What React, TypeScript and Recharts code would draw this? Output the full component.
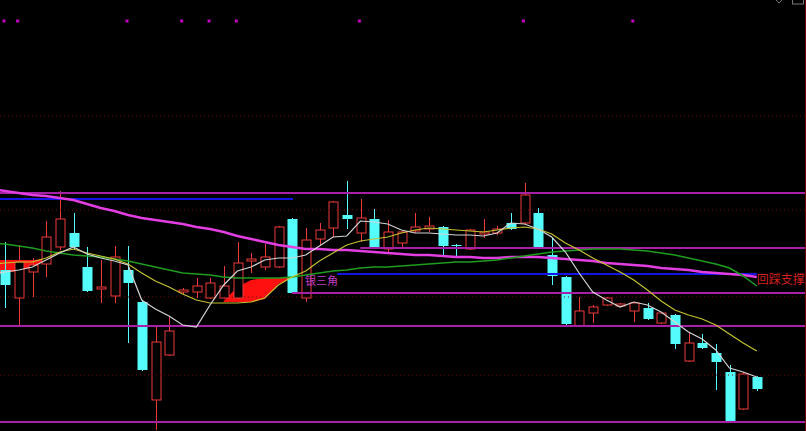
import React from 'react';
import {
  ComposedChart,
  Bar,
  Line,
  Area,
  Scatter,
  XAxis,
  YAxis,
  ReferenceLine,
  ReferenceDot,
} from 'recharts';

// first slot is the session before the window (lines only, no candle)
const OPEN = [null, 9.30, 9.02, 9.28, 9.36, 9.53, 9.67, 9.33, 9.11, 9.04, 9.30, 8.98, 8.00, 8.45, 9.08, 9.08, 9.02, 9.02, 9.02, 9.39, 9.33, 9.33, 9.81, 9.02, 9.61, 9.72, 9.85, 9.67, 9.81, 9.51, 9.57, 9.69, 9.71, 9.73, 9.55, 9.51, 9.66, 9.67, 9.77, 9.77, 9.87, 9.45, 9.23, 8.74, 8.87, 8.95, 8.94, 8.89, 8.92, 8.77, 8.85, 8.39, 8.57, 8.47, 8.28, 7.91, 8.23];
const HIGH = [null, 9.58, 9.55, 9.42, 9.79, 10.09, 9.87, 9.53, 9.40, 9.54, 9.54, 8.99, 8.73, 8.83, 9.12, 9.22, 9.22, 9.34, 9.58, 9.47, 9.56, 9.74, 9.82, 9.72, 9.77, 9.99, 10.19, 10.01, 9.91, 9.80, 9.69, 9.87, 9.83, 9.74, 9.56, 9.71, 9.81, 9.74, 9.87, 10.17, 9.92, 9.62, 9.24, 9.03, 8.95, 9.03, 8.97, 8.98, 8.97, 8.88, 8.86, 8.67, 8.66, 8.56, 8.35, 8.28, 8.24];
const LOW = [null, 8.92, 8.75, 9.03, 9.23, 9.50, 9.51, 9.08, 8.97, 8.97, 8.57, 8.29, 7.70, 8.44, 9.06, 9.02, 9.01, 9.01, 9.01, 9.27, 9.30, 9.32, 9.06, 8.98, 9.55, 9.63, 9.71, 9.58, 9.51, 9.48, 9.53, 9.67, 9.68, 9.45, 9.42, 9.50, 9.62, 9.65, 9.70, 9.76, 9.51, 9.15, 8.75, 8.73, 8.77, 8.94, 8.93, 8.78, 8.80, 8.76, 8.51, 8.38, 8.51, 8.10, 7.77, 7.90, 8.09];
const CLOSE = [null, 9.15, 9.38, 9.35, 9.63, 9.81, 9.53, 9.09, 9.13, 9.43, 9.17, 8.30, 8.58, 8.69, 9.10, 9.14, 9.17, 9.14, 9.37, 9.41, 9.43, 9.73, 9.07, 9.60, 9.70, 9.98, 9.81, 9.82, 9.52, 9.68, 9.68, 9.73, 9.74, 9.54, 9.54, 9.70, 9.68, 9.71, 9.71, 10.05, 9.52, 9.24, 8.76, 8.89, 8.93, 9.02, 8.96, 8.97, 8.81, 8.87, 8.56, 8.57, 8.52, 8.38, 7.78, 8.26, 8.11];

const MA5 = [9.25, 9.28, 9.30, 9.33, 9.40, 9.47, 9.53, 9.46, 9.42, 9.39, 9.35, 9.00, 8.91, 8.84, 8.75, 8.73, 8.95, 9.15, 9.29, 9.33, 9.40, 9.42, 9.42, 9.45, 9.54, 9.63, 9.64, 9.79, 9.78, 9.76, 9.70, 9.67, 9.67, 9.66, 9.65, 9.65, 9.64, 9.67, 9.77, 9.76, 9.71, 9.63, 9.48, 9.27, 9.08, 9.00, 8.93, 8.98, 8.95, 8.88, 8.78, 8.68, 8.61, 8.50, 8.32, 8.28, 8.23];
const MA10 = [9.36, 9.37, 9.38, 9.38, 9.42, 9.48, 9.51, 9.47, 9.44, 9.41, 9.36, 9.27, 9.19, 9.13, 9.06, 9.00, 8.97, 8.97, 8.97, 8.98, 9.02, 9.15, 9.23, 9.29, 9.39, 9.47, 9.55, 9.59, 9.61, 9.63, 9.67, 9.70, 9.72, 9.71, 9.70, 9.69, 9.68, 9.70, 9.72, 9.73, 9.71, 9.66, 9.57, 9.50, 9.42, 9.35, 9.28, 9.20, 9.10, 8.99, 8.90, 8.85, 8.81, 8.75, 8.66, 8.57, 8.49];
const MA30 = [9.57, 9.56, 9.54, 9.52, 9.49, 9.47, 9.45, 9.44, 9.43, 9.41, 9.39, 9.36, 9.33, 9.30, 9.27, 9.26, 9.25, 9.23, 9.22, 9.22, 9.22, 9.22, 9.23, 9.25, 9.27, 9.29, 9.30, 9.32, 9.33, 9.33, 9.34, 9.35, 9.36, 9.37, 9.38, 9.38, 9.39, 9.40, 9.42, 9.44, 9.46, 9.48, 9.49, 9.50, 9.51, 9.51, 9.51, 9.50, 9.49, 9.47, 9.45, 9.42, 9.39, 9.36, 9.32, 9.24, 9.14];
const MA60 = [10.11, 10.09, 10.07, 10.05, 10.04, 10.02, 10.00, 9.96, 9.92, 9.89, 9.85, 9.82, 9.80, 9.78, 9.76, 9.73, 9.71, 9.68, 9.64, 9.61, 9.58, 9.55, 9.53, 9.51, 9.51, 9.50, 9.50, 9.49, 9.48, 9.47, 9.46, 9.45, 9.45, 9.44, 9.43, 9.43, 9.42, 9.42, 9.43, 9.43, 9.43, 9.42, 9.41, 9.40, 9.39, 9.37, 9.36, 9.35, 9.34, 9.32, 9.31, 9.30, 9.28, 9.27, 9.26, 9.25, 9.23];

// red filled zones (session index, lower edge, upper edge)
const BAND_IDX = [-1, 0, 1, 2, 3, 16, 17, 18, 19, 20, 21];
const BAND_LO = [9.25, 9.27, 9.29, 9.33, 9.40, 8.98, 8.98, 8.98, 9.01, 9.16, 9.22];
const BAND_HI = [9.40, 9.40, 9.40, 9.40, 9.41, 8.99, 9.13, 9.20, 9.22, 9.22, 9.23];

// signal marks along the top
const MARK_IDX = [0, 1, 9, 13, 15, 17, 26, 38, 46];
const MARK_PRICE = 11.79;

const GRID_LEVELS = [10.84, 9.90, 9.03, 8.25];
const FULL_LEVELS = [10.07, 8.74, 7.78];

const RED = '#f03a3a';
const CYAN = '#54fcfc';
const PURPLE = '#a621a6';
const BLUE = '#1414e6';

const rows = MA5.map((_, k) => {
  const bi = BAND_IDX.indexOf(k - 1);
  return {
    i: k - 1,
    o: OPEN[k],
    h: HIGH[k],
    l: LOW[k],
    c: CLOSE[k],
    range: HIGH[k] == null ? null : [LOW[k], HIGH[k]],
    ma5: MA5[k],
    ma10: MA10[k],
    ma30: MA30[k],
    ma60: MA60[k],
    band: bi >= 0 ? [BAND_LO[bi], BAND_HI[bi]] : null,
  };
});

const marks = MARK_IDX.map((i) => ({ i, y: MARK_PRICE }));

const Candle = (props: any) => {
  const { x, y, width, height, payload } = props;
  if (payload == null || payload.h == null) return null;
  const { o, h, l, c } = payload;
  const up = c >= o;
  const color = up ? RED : CYAN;
  const py = (p: number) => y + ((h - p) / (h - l)) * height;
  const cx = Math.round(x + width / 2) + 0.5;
  const top = py(Math.max(o, c));
  const bot = py(Math.min(o, c));
  const bh = Math.max(bot - top, 1);
  return (
    <g>
      <line x1={cx} x2={cx} y1={y} y2={top} stroke={color} />
      <line x1={cx} x2={cx} y1={top + bh} y2={y + height} stroke={color} />
      {up ? (
        <rect x={cx - 4.5} y={top} width={9} height={bh} fill="#000" stroke={color} />
      ) : (
        <rect x={cx - 5} y={top} width={10} height={bh} fill={color} />
      )}
    </g>
  );
};

const Mark = (props: any) => (
  <rect x={props.cx - 2.5} y={props.cy - 1.5} width={3} height={3} fill="#c400c4" />
);

const textAt = (label: string, color: string, size: number) => (props: any) => (
  <text
    x={props.cx}
    y={props.cy}
    fill={color}
    fontSize={size}
    fontFamily="'Noto Sans CJK SC', sans-serif"
    dominantBaseline="central"
  >
    {label}
  </text>
);

export default function App() {
  return (
    <div style={{ position: 'absolute', left: 0, top: 0, width: 806, height: 431, background: '#000' }}>
      <ComposedChart
        width={806}
        height={431}
        data={rows}
        margin={{ top: 0, right: 0, bottom: 0, left: 0 }}
      >
        <XAxis type="number" dataKey="i" domain={[-0.366, 58.6]} allowDataOverflow hide />
        <YAxis type="number" domain={[7.69, 12]} allowDataOverflow hide />

        {GRID_LEVELS.map((p) => (
          <ReferenceLine key={'g' + p} y={p} stroke="#6e0c0c" strokeDasharray="1 3" />
        ))}
        {FULL_LEVELS.map((p) => (
          <ReferenceLine key={'f' + p} y={p} stroke={PURPLE} strokeWidth={2} />
        ))}
        <ReferenceLine segment={[{ x: -0.366, y: 10.01 }, { x: 21.07, y: 10.01 }]} stroke={BLUE} strokeWidth={2} />
        <ReferenceLine segment={[{ x: 26, y: 9.52 }, { x: 58.6, y: 9.52 }]} stroke={PURPLE} strokeWidth={2} />
        <ReferenceLine segment={[{ x: 24.3, y: 9.26 }, { x: 55, y: 9.26 }]} stroke={BLUE} strokeWidth={2} />
        <ReferenceLine segment={[{ x: 21, y: 9.07 }, { x: 58.6, y: 9.07 }]} stroke={PURPLE} strokeWidth={2} />

        <Area
          dataKey={(d: any) => d.band}
          stroke="none"
          fill="#ff1010"
          fillOpacity={1}
          activeDot={false}
          isAnimationActive={false}
        />
        <Line dataKey="ma60" stroke="#e23ee2" strokeWidth={2.5} dot={false} activeDot={false} isAnimationActive={false} />
        <Line dataKey="ma30" stroke="#1e9c1e" strokeWidth={1.5} dot={false} activeDot={false} isAnimationActive={false} />
        <Line dataKey="ma10" stroke="#c4c232" strokeWidth={1.2} dot={false} activeDot={false} isAnimationActive={false} />
        <Line dataKey="ma5" stroke="#d4d4d4" strokeWidth={1.2} dot={false} activeDot={false} isAnimationActive={false} />

        <Bar dataKey="range" barSize={10} shape={Candle} activeBar={false} isAnimationActive={false} />
        <Scatter data={marks} dataKey="y" shape={Mark} isAnimationActive={false} />

        <ReferenceDot x={21.95} y={9.20} r={0} shape={textAt('银三角', '#c23cc2', 11)} />
        <ReferenceDot x={55} y={9.22} r={0} shape={textAt('回踩支撑位', '#d42020', 12)} />
      </ComposedChart>
      <svg width={806} height={431} style={{ position: 'absolute', left: 0, top: 0, pointerEvents: 'none' }}>
        <polyline points="776,0 779,3 782,0" fill="none" stroke="#777" />
        <rect x={792.5} y={-4} width={11} height={8} fill="none" stroke="#777" />
        <line x1={805.5} x2={805.5} y1={0} y2={431} stroke="#6a0000" />
      </svg>
    </div>
  );
}
